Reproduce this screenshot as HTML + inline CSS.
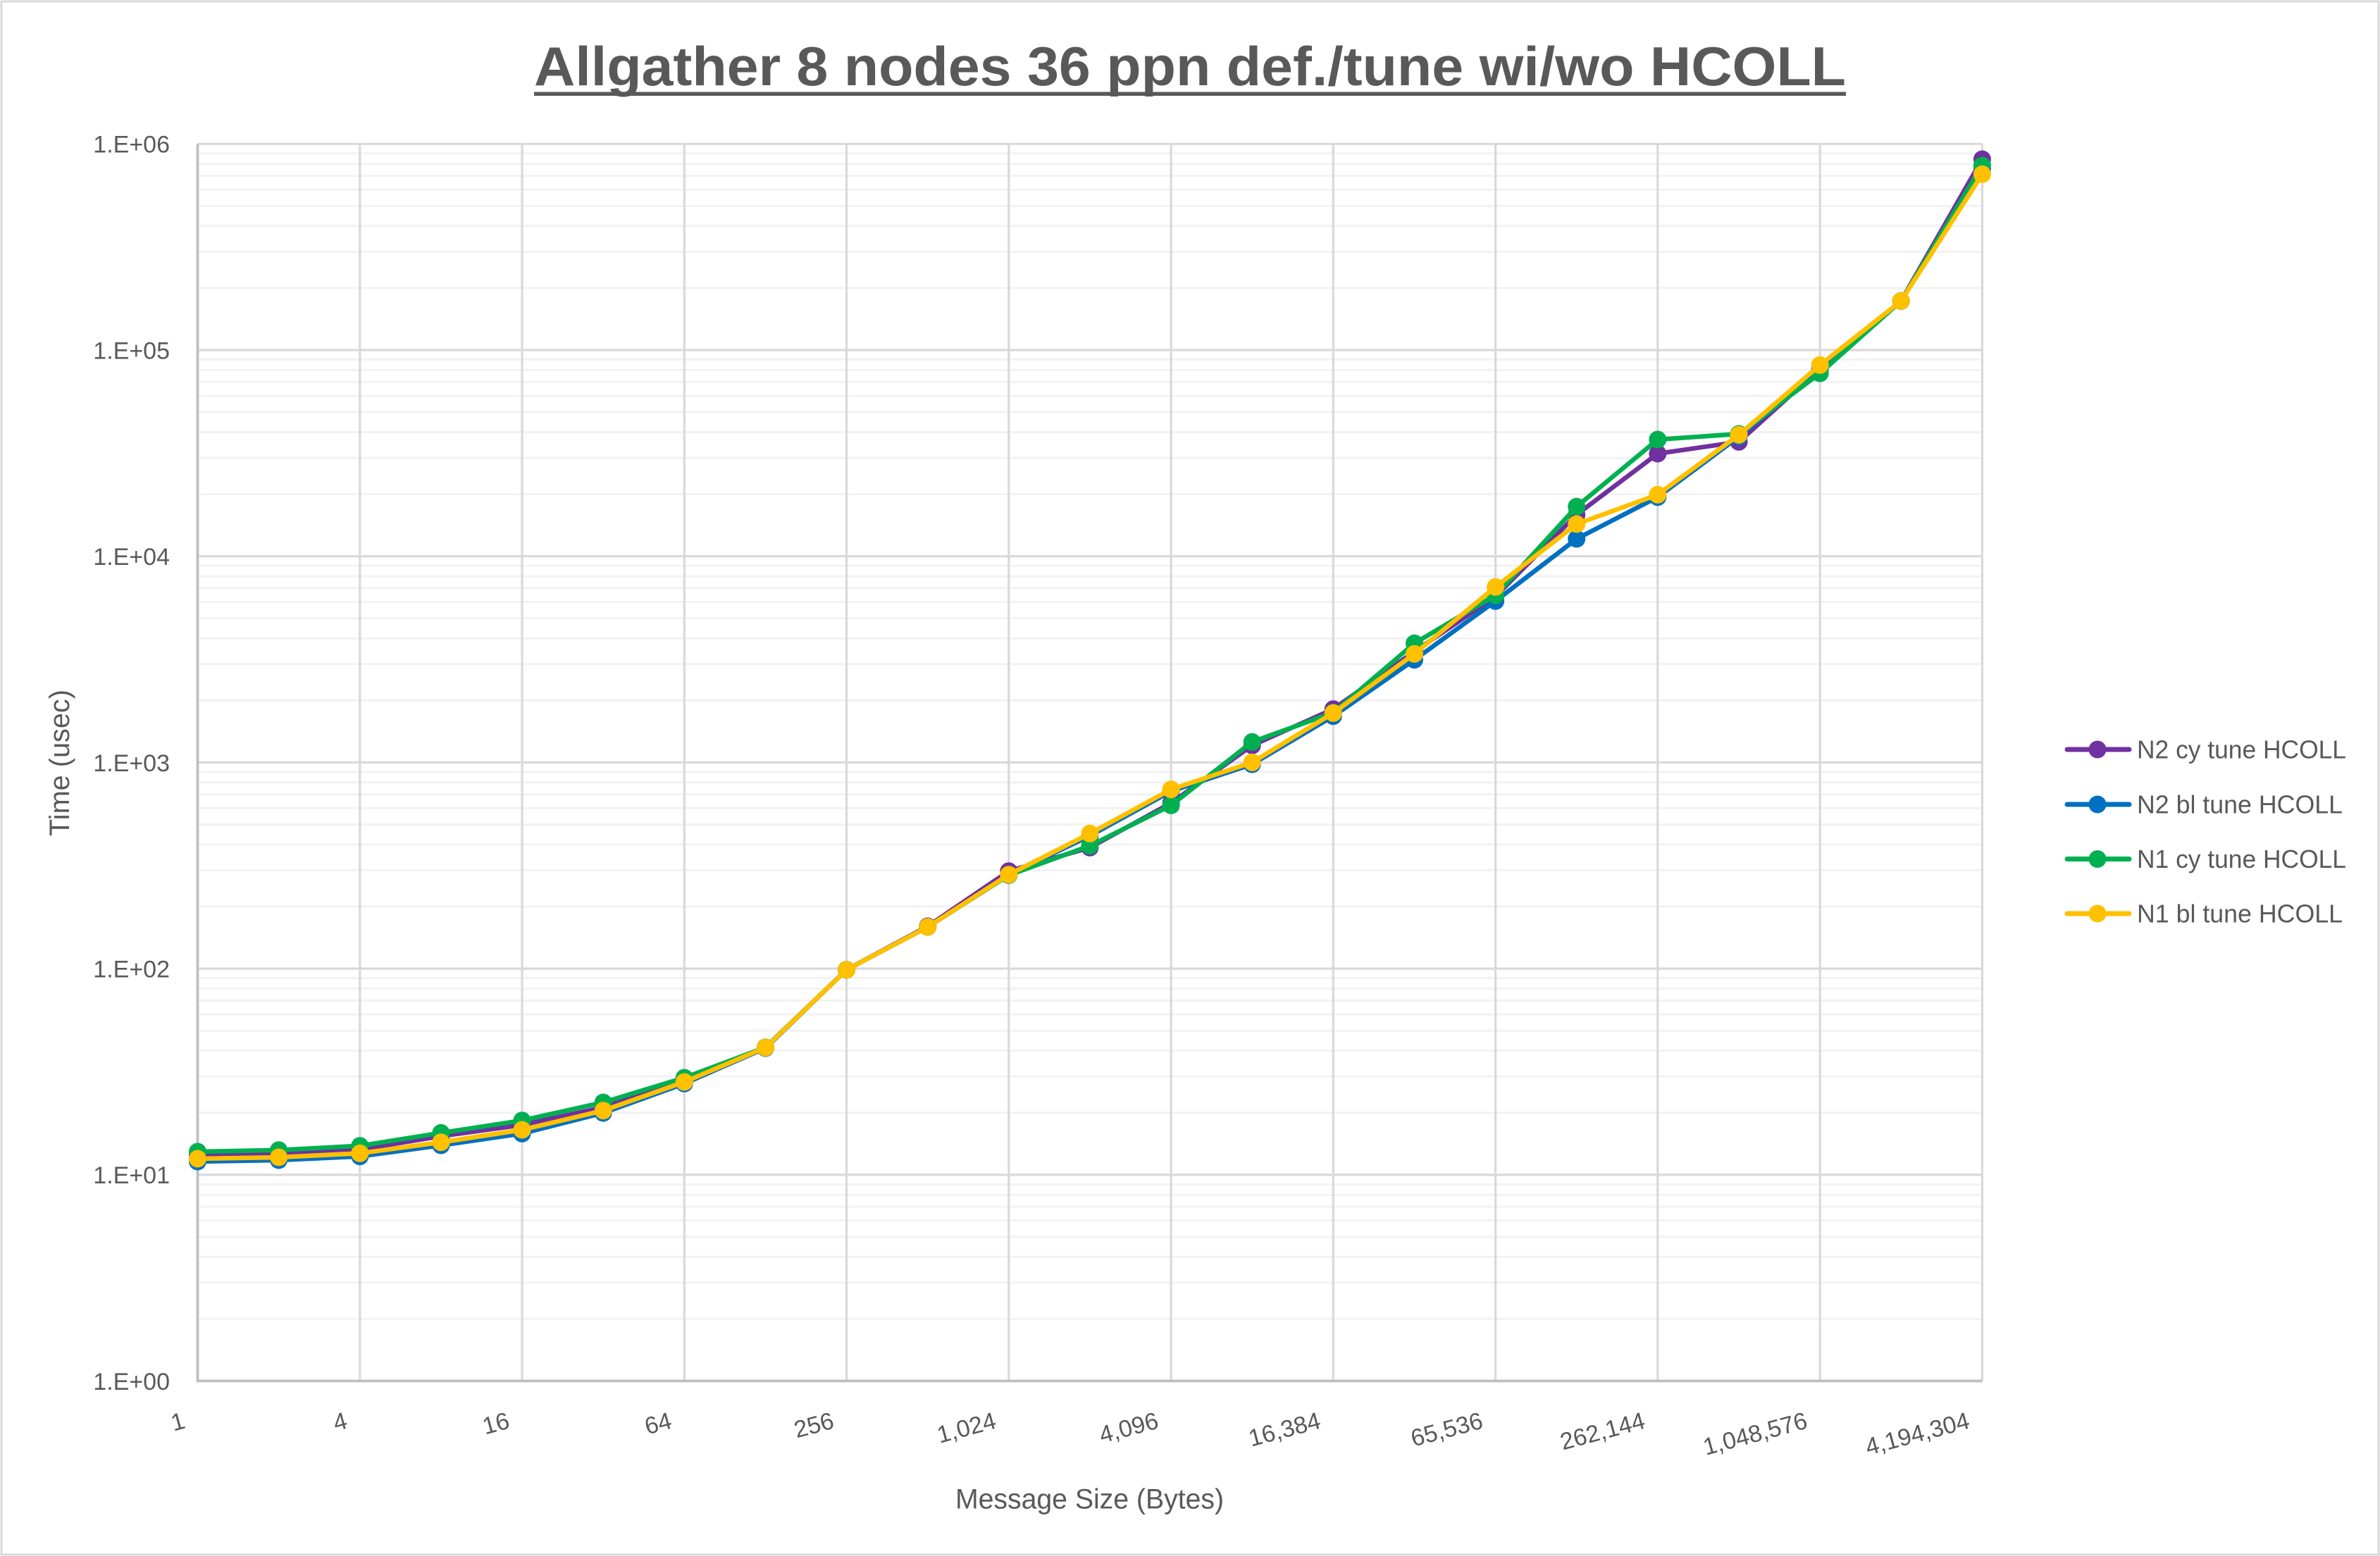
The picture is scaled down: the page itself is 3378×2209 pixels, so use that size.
<!DOCTYPE html>
<html><head><meta charset="utf-8"><style>
html,body{margin:0;padding:0;background:#fff;}
svg{display:block;}
text{font-family:"Liberation Sans",Arial,sans-serif;fill:#595959;}
</style></head><body>
<svg xmlns="http://www.w3.org/2000/svg" width="3378" height="2209" viewBox="0 0 3378 2209">
<rect x="0" y="0" width="3378" height="2209" fill="#fff"/>
<rect x="2" y="2" width="3374" height="2205" fill="none" stroke="#d9d9d9" stroke-width="3"/>

<!-- Title -->
<text x="758" y="121" font-size="78" font-weight="bold" textLength="1862" lengthAdjust="spacingAndGlyphs">Allgather 8 nodes 36 ppn def./tune wi/wo HCOLL</text>
<rect x="758" y="130.5" width="1862" height="5.5" fill="#595959"/>

<!-- minor gridlines -->
<path fill="none" stroke="#f2f2f2" stroke-width="3" d="
M280.5 1872.4H2813.4 M280.5 1820.9H2813.4 M280.5 1784.3H2813.4 M280.5 1755.9H2813.4 M280.5 1732.7H2813.4 M280.5 1713.1H2813.4 M280.5 1696.2H2813.4 M280.5 1681.2H2813.4
M280.5 1579.7H2813.4 M280.5 1528.2H2813.4 M280.5 1491.6H2813.4 M280.5 1463.2H2813.4 M280.5 1440.0H2813.4 M280.5 1420.4H2813.4 M280.5 1403.5H2813.4 M280.5 1388.5H2813.4
M280.5 1287.0H2813.4 M280.5 1235.5H2813.4 M280.5 1198.9H2813.4 M280.5 1170.5H2813.4 M280.5 1147.3H2813.4 M280.5 1127.7H2813.4 M280.5 1110.8H2813.4 M280.5 1095.8H2813.4
M280.5 994.3H2813.4 M280.5 942.8H2813.4 M280.5 906.2H2813.4 M280.5 877.8H2813.4 M280.5 854.6H2813.4 M280.5 835.0H2813.4 M280.5 818.1H2813.4 M280.5 803.1H2813.4
M280.5 701.6H2813.4 M280.5 650.1H2813.4 M280.5 613.5H2813.4 M280.5 585.1H2813.4 M280.5 561.9H2813.4 M280.5 542.3H2813.4 M280.5 525.4H2813.4 M280.5 510.4H2813.4
M280.5 408.9H2813.4 M280.5 357.4H2813.4 M280.5 320.8H2813.4 M280.5 292.4H2813.4 M280.5 269.2H2813.4 M280.5 249.6H2813.4 M280.5 232.7H2813.4 M280.5 217.7H2813.4"/>

<!-- vertical gridlines -->
<path fill="none" stroke="#d9d9d9" stroke-width="3.2" d="
M510.8 204.3V1960.5 M741.0 204.3V1960.5 M971.3 204.3V1960.5 M1201.5 204.3V1960.5 M1431.8 204.3V1960.5 M1662.1 204.3V1960.5 M1892.3 204.3V1960.5 M2122.6 204.3V1960.5 M2352.8 204.3V1960.5 M2583.1 204.3V1960.5 M2813.4 204.3V1960.5"/>

<!-- major horizontal gridlines -->
<path fill="none" stroke="#d9d9d9" stroke-width="3.2" d="
M280.5 204.3H2813.4 M280.5 497.0H2813.4 M280.5 789.7H2813.4 M280.5 1082.4H2813.4 M280.5 1375.1H2813.4 M280.5 1667.8H2813.4"/>

<!-- axes -->
<path fill="none" stroke="#bfbfbf" stroke-width="3.8" d="M280.5 204.3V1960.5H2813.4"/>

<!-- Y labels -->
<g font-size="34" text-anchor="end">
<text x="241" y="216.7">1.E+06</text>
<text x="241" y="509.4">1.E+05</text>
<text x="241" y="802.1">1.E+04</text>
<text x="241" y="1094.8">1.E+03</text>
<text x="241" y="1387.5">1.E+02</text>
<text x="241" y="1680.2">1.E+01</text>
<text x="241" y="1972.9">1.E+00</text>
</g>

<!-- X labels -->
<g font-size="34" text-anchor="end">
<text transform="translate(264.5,2027) rotate(-15)">1</text>
<text transform="translate(494.8,2027) rotate(-15)">4</text>
<text transform="translate(725.0,2027) rotate(-15)">16</text>
<text transform="translate(955.3,2027) rotate(-15)">64</text>
<text transform="translate(1185.5,2027) rotate(-15)">256</text>
<text transform="translate(1415.8,2027) rotate(-15)">1,024</text>
<text transform="translate(1646.1,2027) rotate(-15)">4,096</text>
<text transform="translate(1876.3,2027) rotate(-15)">16,384</text>
<text transform="translate(2106.6,2027) rotate(-15)">65,536</text>
<text transform="translate(2336.8,2027) rotate(-15)">262,144</text>
<text transform="translate(2567.1,2027) rotate(-15)">1,048,576</text>
<text transform="translate(2797.4,2027) rotate(-15)">4,194,304</text>
</g>

<!-- Axis titles -->
<text x="1356" y="2141.7" font-size="40" textLength="381" lengthAdjust="spacingAndGlyphs">Message Size (Bytes)</text>
<text transform="translate(98,1187) rotate(-90)" font-size="40" textLength="208" lengthAdjust="spacingAndGlyphs">Time (usec)</text>

<!-- Series: purple -->
<g fill="#7030a0">
<polyline fill="none" stroke="#7030a0" stroke-width="6.5" stroke-linejoin="round" stroke-linecap="round" points="280.5,1640 395.6,1638 510.8,1632 625.9,1613 741.0,1597 856.2,1572 971.3,1533 1086.4,1487 1201.5,1376.7 1316.7,1315 1431.8,1236.7 1546.9,1203.3 1662.1,1140 1777.2,1058.3 1892.3,1006.7 2007.5,925 2122.6,846.7 2237.7,730.7 2352.8,644 2468.0,627.3 2583.1,523.3 2698.2,427.3 2813.4,226"/>
<circle cx="280.5" cy="1640" r="12.5"/><circle cx="395.6" cy="1638" r="12.5"/><circle cx="510.8" cy="1632" r="12.5"/><circle cx="625.9" cy="1613" r="12.5"/><circle cx="741.0" cy="1597" r="12.5"/><circle cx="856.2" cy="1572" r="12.5"/><circle cx="971.3" cy="1533" r="12.5"/><circle cx="1086.4" cy="1487" r="12.5"/><circle cx="1201.5" cy="1376.7" r="12.5"/><circle cx="1316.7" cy="1315" r="12.5"/><circle cx="1431.8" cy="1236.7" r="12.5"/><circle cx="1546.9" cy="1203.3" r="12.5"/><circle cx="1662.1" cy="1140" r="12.5"/><circle cx="1777.2" cy="1058.3" r="12.5"/><circle cx="1892.3" cy="1006.7" r="12.5"/><circle cx="2007.5" cy="925" r="12.5"/><circle cx="2122.6" cy="846.7" r="12.5"/><circle cx="2237.7" cy="730.7" r="12.5"/><circle cx="2352.8" cy="644" r="12.5"/><circle cx="2468.0" cy="627.3" r="12.5"/><circle cx="2583.1" cy="523.3" r="12.5"/><circle cx="2698.2" cy="427.3" r="12.5"/><circle cx="2813.4" cy="226" r="12.5"/>
</g>

<!-- Series: blue -->
<g fill="#0070c0">
<polyline fill="none" stroke="#0070c0" stroke-width="6.5" stroke-linejoin="round" stroke-linecap="round" points="280.5,1649 395.6,1647 510.8,1641.7 625.9,1626 741.0,1609.3 856.2,1580 971.3,1538.3 1086.4,1488 1201.5,1376.7 1316.7,1316 1431.8,1241.7 1546.9,1186.7 1662.1,1123.3 1777.2,1085 1892.3,1016.7 2007.5,936.7 2122.6,853.3 2237.7,765 2352.8,705.7 2468.0,620 2583.1,525 2698.2,427.3 2813.4,240"/>
<circle cx="280.5" cy="1649" r="12.5"/><circle cx="395.6" cy="1647" r="12.5"/><circle cx="510.8" cy="1641.7" r="12.5"/><circle cx="625.9" cy="1626" r="12.5"/><circle cx="741.0" cy="1609.3" r="12.5"/><circle cx="856.2" cy="1580" r="12.5"/><circle cx="971.3" cy="1538.3" r="12.5"/><circle cx="1086.4" cy="1488" r="12.5"/><circle cx="1201.5" cy="1376.7" r="12.5"/><circle cx="1316.7" cy="1316" r="12.5"/><circle cx="1431.8" cy="1241.7" r="12.5"/><circle cx="1546.9" cy="1186.7" r="12.5"/><circle cx="1662.1" cy="1123.3" r="12.5"/><circle cx="1777.2" cy="1085" r="12.5"/><circle cx="1892.3" cy="1016.7" r="12.5"/><circle cx="2007.5" cy="936.7" r="12.5"/><circle cx="2122.6" cy="853.3" r="12.5"/><circle cx="2237.7" cy="765" r="12.5"/><circle cx="2352.8" cy="705.7" r="12.5"/><circle cx="2468.0" cy="620" r="12.5"/><circle cx="2583.1" cy="525" r="12.5"/><circle cx="2698.2" cy="427.3" r="12.5"/><circle cx="2813.4" cy="240" r="12.5"/>
</g>

<!-- Series: green -->
<g fill="#00b050">
<polyline fill="none" stroke="#00b050" stroke-width="6.5" stroke-linejoin="round" stroke-linecap="round" points="280.5,1635 395.6,1632.7 510.8,1626.7 625.9,1608.3 741.0,1590.7 856.2,1565 971.3,1530 1086.4,1487 1201.5,1376.7 1316.7,1316 1431.8,1242.5 1546.9,1200.7 1662.1,1143.3 1777.2,1053.3 1892.3,1011.7 2007.5,913.3 2122.6,845 2237.7,719.3 2352.8,624 2468.0,616 2583.1,530 2698.2,427.3 2813.4,235"/>
<circle cx="280.5" cy="1635" r="12.5"/><circle cx="395.6" cy="1632.7" r="12.5"/><circle cx="510.8" cy="1626.7" r="12.5"/><circle cx="625.9" cy="1608.3" r="12.5"/><circle cx="741.0" cy="1590.7" r="12.5"/><circle cx="856.2" cy="1565" r="12.5"/><circle cx="971.3" cy="1530" r="12.5"/><circle cx="1086.4" cy="1487" r="12.5"/><circle cx="1201.5" cy="1376.7" r="12.5"/><circle cx="1316.7" cy="1316" r="12.5"/><circle cx="1431.8" cy="1242.5" r="12.5"/><circle cx="1546.9" cy="1200.7" r="12.5"/><circle cx="1662.1" cy="1143.3" r="12.5"/><circle cx="1777.2" cy="1053.3" r="12.5"/><circle cx="1892.3" cy="1011.7" r="12.5"/><circle cx="2007.5" cy="913.3" r="12.5"/><circle cx="2122.6" cy="845" r="12.5"/><circle cx="2237.7" cy="719.3" r="12.5"/><circle cx="2352.8" cy="624" r="12.5"/><circle cx="2468.0" cy="616" r="12.5"/><circle cx="2583.1" cy="530" r="12.5"/><circle cx="2698.2" cy="427.3" r="12.5"/><circle cx="2813.4" cy="235" r="12.5"/>
</g>

<!-- Series: yellow -->
<g fill="#ffc000">
<polyline fill="none" stroke="#ffc000" stroke-width="6.5" stroke-linejoin="round" stroke-linecap="round" points="280.5,1645 395.6,1643 510.8,1637.3 625.9,1621.7 741.0,1604 856.2,1576.7 971.3,1536 1086.4,1487.3 1201.5,1376.7 1316.7,1316 1431.8,1241.7 1546.9,1183.3 1662.1,1120.7 1777.2,1082.3 1892.3,1012.3 2007.5,928.3 2122.6,833.3 2237.7,744 2352.8,702.3 2468.0,617.3 2583.1,518.3 2698.2,427.3 2813.4,247.3"/>
<circle cx="280.5" cy="1645" r="12.5"/><circle cx="395.6" cy="1643" r="12.5"/><circle cx="510.8" cy="1637.3" r="12.5"/><circle cx="625.9" cy="1621.7" r="12.5"/><circle cx="741.0" cy="1604" r="12.5"/><circle cx="856.2" cy="1576.7" r="12.5"/><circle cx="971.3" cy="1536" r="12.5"/><circle cx="1086.4" cy="1487.3" r="12.5"/><circle cx="1201.5" cy="1376.7" r="12.5"/><circle cx="1316.7" cy="1316" r="12.5"/><circle cx="1431.8" cy="1241.7" r="12.5"/><circle cx="1546.9" cy="1183.3" r="12.5"/><circle cx="1662.1" cy="1120.7" r="12.5"/><circle cx="1777.2" cy="1082.3" r="12.5"/><circle cx="1892.3" cy="1012.3" r="12.5"/><circle cx="2007.5" cy="928.3" r="12.5"/><circle cx="2122.6" cy="833.3" r="12.5"/><circle cx="2237.7" cy="744" r="12.5"/><circle cx="2352.8" cy="702.3" r="12.5"/><circle cx="2468.0" cy="617.3" r="12.5"/><circle cx="2583.1" cy="518.3" r="12.5"/><circle cx="2698.2" cy="427.3" r="12.5"/><circle cx="2813.4" cy="247.3" r="12.5"/>
</g>

<!-- Legend -->
<g stroke-width="7" stroke-linecap="round">
<line x1="2934" y1="1064" x2="3022" y2="1064" stroke="#7030a0"/>
<line x1="2934" y1="1142" x2="3022" y2="1142" stroke="#0070c0"/>
<line x1="2934" y1="1219.5" x2="3022" y2="1219.5" stroke="#00b050"/>
<line x1="2934" y1="1297" x2="3022" y2="1297" stroke="#ffc000"/>
</g>
<circle cx="2977" cy="1064" r="12.5" fill="#7030a0"/>
<circle cx="2977" cy="1142" r="12.5" fill="#0070c0"/>
<circle cx="2977" cy="1219.5" r="12.5" fill="#00b050"/>
<circle cx="2977" cy="1297" r="12.5" fill="#ffc000"/>
<g font-size="36">
<text x="3033" y="1076.7" textLength="297" lengthAdjust="spacingAndGlyphs">N2 cy tune HCOLL</text>
<text x="3033" y="1154.7" textLength="292" lengthAdjust="spacingAndGlyphs">N2 bl tune HCOLL</text>
<text x="3033" y="1232.2" textLength="297" lengthAdjust="spacingAndGlyphs">N1 cy tune HCOLL</text>
<text x="3033" y="1309.7" textLength="292" lengthAdjust="spacingAndGlyphs">N1 bl tune HCOLL</text>
</g>
</svg>
</body></html>
